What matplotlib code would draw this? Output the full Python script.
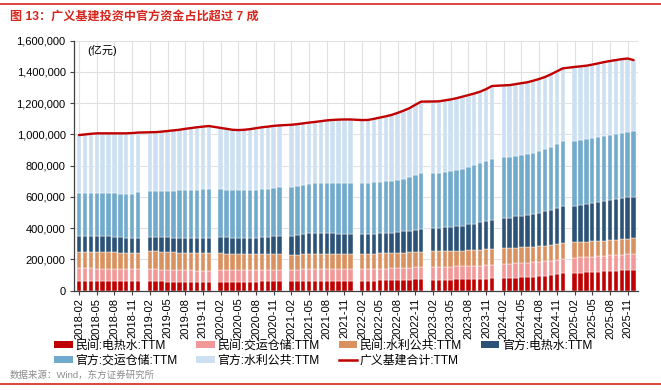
import matplotlib
matplotlib.use('Agg')
import matplotlib.pyplot as plt
from matplotlib.patches import Patch
from matplotlib.lines import Line2D
import numpy as np

plt.rcParams['font.family'] = ['Liberation Sans', 'Noto Sans CJK SC', 'DejaVu Sans']

# ---- data (unit: 亿元, values in thousands x 1000) ----
years = list(range(2018, 2026))
months = list(range(2, 13))   # January is not reported
dates = [f"{y}-{m:02d}" for y in years for m in months]

# 民间:电热水:TTM
priv_power = [63,63,63,63,63,63,63,62,62,61,60,
              60,59,59,58,58,58,58,58,57,57,57,
              54,54,55,56,57,58,58,59,59,60,60,
              60,61,62,63,64,64,64,64,64,64,64,
              64,64,65,66,66,67,68,69,70,72,73,
              68,69,70,71,72,73,74,75,76,78,79,
              81,82,84,86,88,90,93,96,100,105,111,
              115,116,118,120,122,124,126,128,130,132,134]
# 民间:交运仓储:TTM
priv_trans = [80,80,80,79,79,79,78,78,77,77,76,
              77,77,76,75,74,73,73,72,72,71,71,
              76,76,75,74,73,73,72,72,72,72,72,
              72,73,74,75,75,75,74,74,74,73,73,
              75,75,75,75,76,76,76,76,77,77,77,
              82,82,82,83,83,83,84,84,84,85,85,
              92,92,93,93,92,92,92,92,92,92,92,
              96,97,97,98,99,99,100,101,101,102,103]
# 民间:水利公共:TTM
priv_water = [105,105,105,105,105,105,104,104,104,104,104,
              115,115,114,114,113,113,112,112,111,111,111,
              109,108,107,106,105,104,103,102,101,100,100,
              96,96,96,97,97,97,97,97,98,98,98,
              98,98,98,98,98,98,98,98,98,98,98,
              102,102,102,102,101,101,101,101,101,101,101,
              98,98,99,99,99,99,100,100,100,100,100,
              99,99,99,99,99,98,98,98,98,98,98]
# 官方:电热水:TTM
gov_power = [102,102,102,102,102,102,101,100,97,96,95,
             91,92,93,94,95,96,97,98,99,100,100,
             104,103,102,102,103,104,106,110,114,117,120,
             122,124,128,132,135,134,133,132,130,129,128,
             126,126,127,128,129,131,134,137,140,144,147,
             149,150,152,154,156,160,165,170,176,182,187,
             194,196,199,201,204,208,214,220,227,234,241,
             234,238,242,246,250,254,257,260,263,265,267]
# 官方:交运仓储:TTM
gov_trans = [277,277,277,277,277,277,277,277,277,283,296,
             295,296,297,299,301,303,305,307,308,309,310,
             306,305,305,305,304,304,305,305,306,308,309,
             314,315,316,317,318,320,321,322,323,324,324,
             326,327,328,330,332,333,334,337,342,349,356,
             350,352,354,356,358,361,366,372,378,385,393,
             389,388,388,388,389,390,393,397,403,408,414,
             416,415,414,414,414,415,416,417,419,420,422]
# 官方:水利公共:TTM
gov_water = [369,373,377,381,381,381,384,386,390,388,381,
             376,376,379,382,385,387,391,394,399,402,405,
             393,390,386,385,388,391,396,398,398,398,397,
             398,397,395,392,391,395,401,404,406,408,409,
             403,403,407,411,415,420,428,435,441,450,459,
             460,457,458,458,462,464,462,460,459,459,465,
             460,460,459,461,462,465,463,463,463,465,465,
             472,471,470,470,471,473,473,472,471,469,452]
# 广义基建合计:TTM
total = [996,1000,1004,1007,1007,1007,1007,1007,1007,1009,1012,
         1014,1015,1018,1022,1026,1030,1036,1041,1046,1050,1054,
         1042,1036,1030,1028,1030,1034,1040,1046,1050,1055,1058,
         1062,1066,1071,1076,1080,1085,1090,1093,1095,1096,1096,
         1092,1093,1100,1108,1116,1125,1138,1152,1168,1190,1210,
         1211,1212,1218,1224,1232,1242,1252,1262,1274,1290,1310,
         1314,1316,1322,1328,1334,1344,1355,1368,1385,1404,1423,
         1432,1436,1440,1447,1455,1463,1470,1476,1482,1486,1476]

series_names = ['民间:电热水:TTM', '民间:交运仓储:TTM', '民间:水利公共:TTM',
                '官方:电热水:TTM', '官方:交运仓储:TTM', '官方:水利公共:TTM']
line_name = '广义基建合计:TTM'
colors = ['#C00000', '#F29898', '#D8915F', '#2C5377', '#70AACC', '#CCE0F2']
line_color = '#C00000'

# ---- figure ----
W, H = 661, 390
fig = plt.figure(figsize=(W/100, H/100), dpi=100)
ax = fig.add_axes([74/W, 1-290.7/H, (638-74)/W, 250/H])

pos = np.array([(int(d[:4])-2018)*12 + int(d[5:])-2 for d in dates])
stack = [priv_power, priv_trans, priv_water, gov_power, gov_trans, gov_water]
bottom = np.zeros(len(dates))
for vals, c in zip(stack, colors):
    v = np.array(vals)*1000.0
    ax.bar(pos, v, bottom=bottom, width=0.75, color=c, edgecolor='white',
           linewidth=0.3, zorder=2)
    bottom += v
ax.plot(pos, np.array(total)*1000.0, color=line_color, lw=1.7, zorder=3,
        solid_capstyle='round')

ax.set_ylim(0, 1600000)
ax.set_yticks(np.arange(0, 1600001, 200000))
ax.yaxis.set_major_formatter(matplotlib.ticker.FuncFormatter(lambda v, p: f"{int(v):,}"))
ax.set_xlim(-0.85, 94.75)
tick_idx = [i for i in range(len(dates)) if (pos[i] % 3) == 0]
ax.set_xticks(pos[tick_idx])
ax.set_xticklabels([dates[i] for i in tick_idx], rotation=90, fontsize=8)
ax.tick_params(axis='y', labelsize=8, length=3, color='#404040', pad=3)
ax.tick_params(axis='x', length=3, color='#404040', pad=2)
ax.grid(True, color='#E0E0E0', lw=0.8, zorder=0)
ax.set_axisbelow(True)
for s in ['top', 'right']:
    ax.spines[s].set_visible(False)
for s in ['left', 'bottom']:
    ax.spines[s].set_color('#404040')
    ax.spines[s].set_linewidth(0.9)

ax.text(0.024, 0.985, '(亿元)', transform=ax.transAxes, fontsize=8, va='top', ha='left')

# title and rules
fig.add_artist(Line2D([0, 1], [1-4/H, 1-4/H], color='#D7261E', lw=1.2))
fig.add_artist(Line2D([0, 1], [1-384/H, 1-384/H], color='#D7261E', lw=1.2))
fig.text(10/W, 1-17/H, '图 13：广义基建投资中官方资金占比超过 7 成', color='#D7261E',
         fontsize=8.7, fontweight='bold', va='center', ha='left')
fig.text(10/W, 1-375/H, '数据来源：Wind，东方证券研究所', color='#8C8C8C',
         fontsize=6.8, va='center', ha='left')

handles = [Patch(facecolor=c, edgecolor='none') for c in colors]
handles.append(Line2D([0], [0], color=line_color, lw=1.8))
labels = series_names + [line_name]
order = [0, 4, 1, 5, 2, 6, 3]   # row-major layout in a column-major legend
fig.legend([handles[i] for i in order], [labels[i] for i in order],
           loc='upper left', bbox_to_anchor=(54/W, 1-340/H),
           ncol=4, frameon=False, fontsize=8.6, borderpad=0, borderaxespad=0,
           handlelength=1.55, handleheight=0.5, handletextpad=0.2,
           columnspacing=1.6, labelspacing=0.2)

fig.savefig('out.png', dpi=100)
